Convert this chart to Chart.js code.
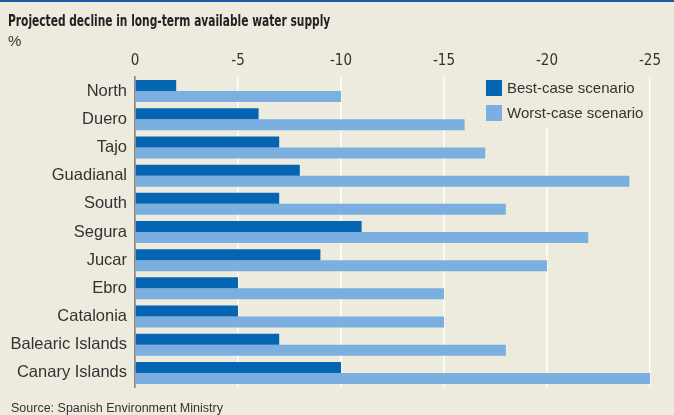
<!DOCTYPE html>
<html>
<head>
<meta charset="utf-8">
<script src="https://cdn.jsdelivr.net/npm/chart.js@4"></script>
<style>
  body { margin: 0; background: #ecebdd; }
  #wrap { position: relative; width: 674px; height: 415px; background: #ecebdd; border-top: 2px solid #1c5c9c; box-sizing: border-box; overflow: hidden; }
  #myChart { position: absolute; left: 0; top: -2px; }
  .txt { position: absolute; left: 8px; color: #222; font-family: "Liberation Sans", Arial, sans-serif; white-space: nowrap; }
  #title { top: 10px; font-family: "DejaVu Sans Condensed", sans-serif; font-weight: bold; font-size: 15.5px; transform: scaleX(0.764); transform-origin: left top; }
  #unit { top: 30px; font-size: 15px; color: #333; }
  #source { top: 399px; left: 11px; font-size: 12.5px; color: #333; }
</style>
</head>
<body>
<div id="wrap">
  <canvas id="myChart" width="674" height="415"></canvas>
  <div class="txt" id="title">Projected decline in long-term available water supply</div>
  <div class="txt" id="unit">%</div>
  <div class="txt" id="source">Source: Spanish Environment Ministry</div>
</div>
<script>
var regions = ["North", "Duero", "Tajo", "Guadianal", "South", "Segura", "Jucar", "Ebro", "Catalonia", "Balearic Islands", "Canary Islands"];
var bestCase = [-2, -6, -7, -8, -7, -11, -9, -5, -5, -7, -10];
var worstCase = [-10, -16, -17, -24, -18, -22, -20, -15, -15, -18, -25];
var xMin = -25;
var xMax = 0;
var xStep = 5;

window.onload = function() {
  montarFigura();
};

// legend drawn inside the plot, top right, on a patch of background
var legendDentro = {
  id: "legendDentro",
  beforeDatasetsDraw: function(chart) {
    var ctx = chart.ctx;
    var area = chart.chartArea;
    var x0 = 486, y0 = area.top + 3;
    ctx.save();
    ctx.fillStyle = "#ecebdd";
    ctx.fillRect(x0 - 4, area.top + 1, 640 - x0 + 4, 50);
    ctx.font = "15px 'Liberation Sans', Arial, sans-serif";
    ctx.textBaseline = "middle";
    chart.data.datasets.forEach(function(ds, i) {
      var y = y0 + i * 25;
      ctx.fillStyle = ds.backgroundColor;
      ctx.fillRect(x0, y, 16, 16);
      ctx.fillStyle = "#333";
      ctx.fillText(ds.label, x0 + 21, y + 8.5);
    });
    ctx.restore();
  }
};

function montarFigura() {
  var ctx = document.getElementById("myChart").getContext("2d");
  Chart.defaults.font.family = "'Liberation Sans', Arial, sans-serif";
  Chart.defaults.color = "#333";

  var chart = new Chart(ctx, {
    type: "bar",
    data: {
      labels: regions,
      datasets: [
        {
          label: "Best-case scenario",
          backgroundColor: "#0565b3",
          data: bestCase,
          categoryPercentage: 0.78,
          barPercentage: 1.0
        },
        {
          label: "Worst-case scenario",
          backgroundColor: "#7aafdf",
          data: worstCase,
          categoryPercentage: 0.78,
          barPercentage: 1.0
        }
      ]
    },
    options: {
      indexAxis: "y",
      responsive: false,
      animation: false,
      layout: { padding: { left: 0, right: 24, top: 0, bottom: 28 } },
      plugins: {
        legend: { display: false },
        tooltip: { enabled: false }
      },
      scales: {
        x: {
          position: "top",
          min: xMin,
          max: xMax,
          reverse: true,
          afterFit: function(scale) { scale.height = 77; },
          ticks: {
            stepSize: xStep,
            padding: 7,
            color: "#333",
            font: { family: "'Liberation Sans Narrow', 'DejaVu Sans Condensed', sans-serif", size: 15 }
          },
          grid: {
            drawTicks: false,
            lineWidth: 1.5,
            color: function(c) { return c.tick && c.tick.value === 0 ? "#8a8a86" : "#ffffff"; }
          },
          border: { display: false }
        },
        y: {
          afterFit: function(scale) { scale.width = 135; },
          ticks: {
            padding: 8,
            color: "#333",
            font: { size: 16.5 }
          },
          grid: { display: false, drawTicks: false },
          border: { display: true, color: "#8a8a86", width: 1.5 }
        }
      }
    },
    plugins: [legendDentro]
  });
}
</script>
</body>
</html>
